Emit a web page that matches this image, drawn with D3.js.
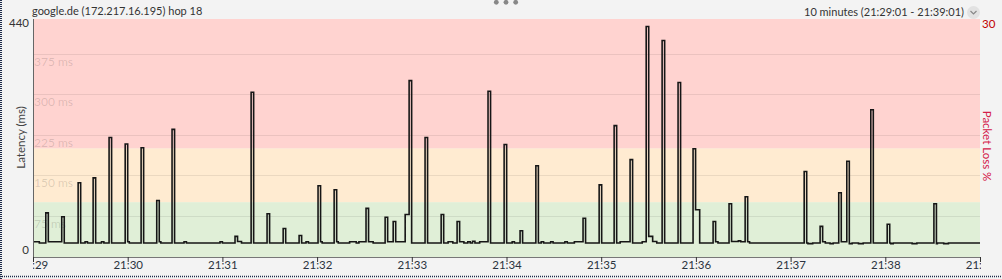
<!DOCTYPE html>
<html>
<head>
<meta charset="utf-8">
<script src="https://cdn.jsdelivr.net/npm/d3@7"></script>
<style>
  body { margin: 0; background: #f3f3f3; }
  svg { display: block; font-family: Lato, "Noto Sans", sans-serif; }
</style>
</head>
<body>
<script>
// latency samples, seconds after 21:29:00 -> ms (step chart)
var sampleSec = [0, 4, 8.1, 9.7, 18.2, 19.8, 28.6, 30.2, 33.0, 34.5, 38.1, 39.7, 43.4, 44.9, 48.2, 49.8,
  58.4, 60.0, 61, 68.5, 70.1, 78.4, 80.0, 81, 88.1, 89.7, 95.7, 97.2, 118.5, 120, 128.0, 129.6, 132.1,
  138.2, 139.8, 148.3, 149.9, 158.5, 160.1, 168.6, 170.2, 173.0, 174.5, 180.6, 182.2, 183.2, 190.8, 192.4,
  193.4, 200.6, 204.8, 206.5, 211.0, 212.6, 215.5, 223.1, 224.7, 228.2, 229.8, 235.8, 238.3, 239.9,
  248.4, 250.0, 258.6, 260.2, 263, 266, 268.7, 270.3, 273, 275.5, 277, 278.5, 280, 283, 288.3, 289.9,
  298.5, 300.1, 303.6, 305, 308.6, 310.2, 318.6, 320.2, 322, 323.5, 328, 329.5, 337, 338.5, 343, 348.5,
  350.1, 358.7, 360.3, 368.2, 369.8, 372, 378.3, 379.9, 386, 388.5, 390.1, 392.6, 395.2, 398.6, 400.2,
  408.7, 410.3, 418.2, 419.8, 422.4, 430.9, 432.5, 434, 441.0, 442.6, 446.9, 448.4, 451.2, 452.8, 454,
  488.6, 490.2, 491, 494, 498.7, 500.3, 502, 505, 507, 510.5, 512.1, 515.6, 517.2, 519, 523, 526,
  530.8, 532.4, 541.2, 542.8, 543.5, 545, 557, 560, 570.8, 572.4, 573, 577, 580, 600];
var sampleMs = [26.5, 24, 80, 26.5, 73, 24, 136, 24, 26.5, 24, 145, 24, 26.5, 24, 220, 24,
  208, 26.5, 24, 201, 24, 103, 26.5, 24, 235, 24, 26.5, 24, 26.5, 24, 36.5, 27, 24,
  304, 24, 78.5, 24, 51, 24, 38, 24, 26.5, 24, 130.5, 26.5, 24, 123, 26.5,
  24, 26.5, 24, 26.5, 88.5, 26.5, 24, 72, 26.5, 64, 26.5, 77, 325.5, 24,
  220, 24, 77, 24, 26.5, 24, 64, 26.5, 24, 26.5, 24, 27.5, 24, 26.5, 306, 24,
  207, 24, 26.5, 24, 47, 24, 167.6, 24, 26.5, 24, 26.5, 24, 26.5, 24, 26.5, 70,
  24, 132, 24, 242, 24, 26.5, 179, 24, 26.5, 426, 36.5, 27, 24, 400, 24,
  322, 24, 199, 86, 24, 64, 26.5, 24, 97, 27, 28, 26.5, 110, 26.5, 24,
  157, 24, 23, 24, 55, 26.5, 24, 23, 24, 117.5, 26.5, 176, 23, 24, 23, 24,
  271.6, 24, 59, 24, 23, 24, 23, 24, 97, 23, 24, 23, 24, 24];

var bandFrom = [0, 100, 200];
var bandTo = [100, 200, 440];
var gridMs = [75, 150, 225, 300, 375];
var latencyTicks = [0, 440];
var lossTicks = [30];
var titleText = "google.de (172.217.16.195) hop 18";
var rangeText = "10 minutes (21:29:01 - 21:39:01)";

var bandColors = ["#e0efd7", "#ffebd1", "#ffd3d0"];

var W = 1002, H = 279;
var plotL = 33, plotR = 980, plotT = 19, plotB = 256;

var t0 = new Date(2024, 0, 1, 21, 29, 0);
var t1 = new Date(2024, 0, 1, 21, 39, 0);

var x = d3.scaleTime().domain([t0, t1]).range([plotL, plotR]);
var y = d3.scaleLinear().domain([0, 440]).range([plotB, plotT]);
var lossY = d3.scaleLinear().domain([0, 30]).range([plotB, plotT]);

var svg = d3.select("body").append("svg")
  .attr("width", W)
  .attr("height", H);

var defs = svg.append("defs");
defs.append("clipPath").attr("id", "plotClip")
  .append("rect").attr("x", plotL).attr("y", plotT).attr("width", plotR - plotL).attr("height", plotB - plotT + 1);
defs.append("clipPath").attr("id", "tickClip")
  .append("rect").attr("x", plotL).attr("y", plotB).attr("width", plotR - plotL + 1).attr("height", H - plotB);

// bands
svg.append("g").selectAll("rect")
  .data(bandFrom)
  .enter().append("rect")
  .attr("x", plotL)
  .attr("width", plotR - plotL)
  .attr("y", function(d, i) { return y(bandTo[i]); })
  .attr("height", function(d, i) { return y(d) - y(bandTo[i]); })
  .attr("fill", function(d, i) { return bandColors[i]; });

svg.append("rect")
  .attr("x", plotL).attr("width", plotR - plotL)
  .attr("y", y(0)).attr("height", 1)
  .attr("fill", bandColors[0]);

// grid lines + labels
var grid = svg.append("g");
grid.selectAll("line")
  .data(gridMs)
  .enter().append("line")
  .attr("x1", plotL).attr("x2", plotR)
  .attr("y1", function(d) { return Math.round(y(d)) + 0.5; })
  .attr("y2", function(d) { return Math.round(y(d)) + 0.5; })
  .attr("stroke", "rgba(0,0,0,0.08)");
grid.selectAll("text")
  .data(gridMs)
  .enter().append("text")
  .attr("x", plotL + 1)
  .attr("y", function(d) { return y(d) + 12; })
  .attr("font-size", 12)
  .attr("fill", "rgba(0,0,0,0.14)")
  .text(function(d) { return d + " ms"; });

// latency line
var samples = sampleSec.map(function(s, i) {
  return { t: new Date(t0.getTime() + s * 1000), v: sampleMs[i] };
});

var line = d3.line()
  .x(function(d) { return x(d.t); })
  .y(function(d) { return y(d.v); })
  .curve(d3.curveStepAfter);

svg.append("path")
  .datum(samples)
  .attr("clip-path", "url(#plotClip)")
  .attr("d", line)
  .attr("fill", "none")
  .attr("stroke", "#161616")
  .attr("stroke-width", 1.6)
  .attr("stroke-linejoin", "miter");

// axes lines
svg.append("line")
  .attr("x1", plotL + 0.5).attr("x2", plotL + 0.5)
  .attr("y1", plotT).attr("y2", plotB + 1)
  .attr("stroke", "#666");
svg.append("line")
  .attr("x1", plotL).attr("x2", plotR)
  .attr("y1", plotB + 1.5).attr("y2", plotB + 1.5)
  .attr("stroke", "#777");

// time axis (outer group clips, inner group is shifted)
var xAxis = d3.axisBottom(x)
  .ticks(d3.timeMinute.every(1))
  .tickFormat(d3.timeFormat("%H:%M"))
  .tickSize(5)
  .tickPadding(-1);

var xg = svg.append("g")
  .attr("clip-path", "url(#tickClip)")
  .append("g")
  .attr("transform", "translate(0," + (plotB + 1) + ")")
  .call(xAxis);
xg.select(".domain").remove();
xg.selectAll("line").attr("stroke", "#333");
xg.selectAll("text")
  .attr("font-size", 11.5)
  .attr("font-family", "Lato, 'Noto Sans', sans-serif")
  .attr("fill", "#2b3340");

// left ticks
svg.append("g").selectAll("text")
  .data(latencyTicks)
  .enter().append("text")
  .attr("x", plotL - 4)
  .attr("y", function(d) { return d === 0 ? y(d) - 2 : y(d) + 8; })
  .attr("text-anchor", "end")
  .attr("font-size", 11.5)
  .attr("fill", "#333")
  .text(function(d) { return d; });

svg.append("text")
  .attr("transform", "translate(25," + ((plotT + plotB) / 2) + ") rotate(-90)")
  .attr("text-anchor", "middle")
  .attr("font-size", 11.5)
  .attr("fill", "#444")
  .text("Latency (ms)");

// right ticks
svg.append("g").selectAll("text")
  .data(lossTicks)
  .enter().append("text")
  .attr("x", plotR + 2)
  .attr("y", function(d) { return lossY(d) + 9; })
  .attr("font-size", 11.5)
  .attr("fill", "#c00000")
  .text(function(d) { return d; });

svg.append("text")
  .attr("transform", "translate(983,146) rotate(90)")
  .attr("text-anchor", "middle")
  .attr("font-size", 11.5)
  .attr("fill", "#d4204a")
  .text("Packet Loss %");

// header
svg.append("text")
  .attr("x", 32).attr("y", 15)
  .attr("font-size", 11)
  .attr("fill", "#333")
  .text(titleText);

svg.append("text")
  .attr("x", 964).attr("y", 16)
  .attr("text-anchor", "end")
  .attr("font-size", 11)
  .attr("fill", "#333")
  .text(rangeText);

svg.append("circle")
  .attr("cx", 973.5).attr("cy", 12.5).attr("r", 6.5)
  .attr("fill", "#e2e2e2");
svg.append("path")
  .attr("d", "M970.5,11 L973.5,14 L976.5,11")
  .attr("fill", "none")
  .attr("stroke", "#888")
  .attr("stroke-width", 1.2);

svg.append("g").selectAll("circle")
  .data([496.3, 506, 515.7])
  .enter().append("circle")
  .attr("cx", function(d) { return d; })
  .attr("cy", 2.3)
  .attr("r", 2.4)
  .attr("fill", "#888");

// window border
svg.append("line")
  .attr("x1", 1).attr("x2", 1).attr("y1", 0).attr("y2", H)
  .attr("stroke", "#1e2b4a").attr("stroke-width", 2)
  .attr("stroke-dasharray", "1,1");
svg.append("line")
  .attr("x1", 0).attr("x2", W).attr("y1", 276.5).attr("y2", 276.5)
  .attr("stroke", "#1e2b4a").attr("stroke-width", 1.5)
  .attr("stroke-dasharray", "1,1");
</script>
</body>
</html>
